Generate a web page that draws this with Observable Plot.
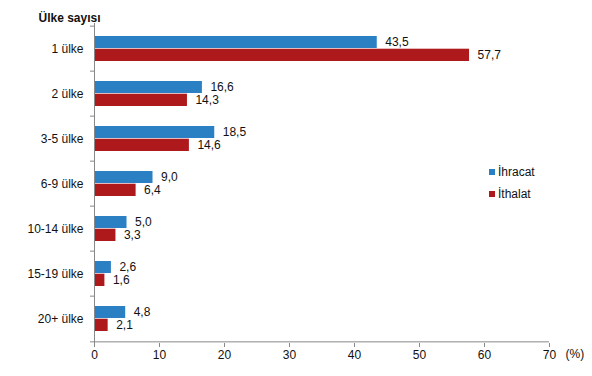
<!DOCTYPE html>
<html><head><meta charset="utf-8">
<script src="https://cdn.jsdelivr.net/npm/d3@7"></script>
<script src="https://cdn.jsdelivr.net/npm/@observablehq/plot@0.6"></script>
<style>
body{margin:0;background:#fff}
#wrap{position:relative;width:592px;height:376px;font-family:"Liberation Sans",Arial,sans-serif}
.leg{position:absolute;left:489px;font-size:12px;color:#111;display:flex;align-items:center;height:14px}
.leg i{display:inline-block;width:6px;height:6px;margin-right:3px}
</style></head><body><div id="wrap"></div>
<script>
const categories = ["1 ülke","2 ülke","3-5 ülke","6-9 ülke","10-14 ülke","15-19 ülke","20+ ülke"];
const ihracat = [43.5,16.6,18.5,9.0,5.0,2.6,4.8];
const ithalat = [57.7,14.3,14.6,6.4,3.3,1.6,2.1];
const series = ["İhracat","İthalat"];
const colors = ["#2b7fc3","#ae1a1c"];
const xTicks = [0,10,20,30,40,50,60,70];
const title = "Ülke sayısı";
const unit = "(%)";

const W = 592, H = 376, mT = 23, mB = 33, mL = 94, mR = 43;
const bw = (H - mT - mB) / categories.length;
const fmt = v => v.toFixed(1).replace(".", ",");
const exp = categories.map((c,i)=>({c, v: ihracat[i]}));
const imp = categories.map((c,i)=>({c, v: ithalat[i]}));

const plot = Plot.plot({
  width: W, height: H,
  marginTop: mT, marginBottom: mB, marginLeft: mL, marginRight: mR,
  style: {fontFamily: '"Liberation Sans", Arial, sans-serif', fontSize: "12px", color: "#111", background: "#fff"},
  x: {domain: [0,70]},
  y: {type: "band", domain: categories, paddingInner: 0, paddingOuter: 0},
  marks: [
    Plot.barX(exp, {x: "v", y: "c", fill: colors[0], insetTop: 10, insetBottom: bw - 22.7}),
    Plot.barX(imp, {x: "v", y: "c", fill: colors[1], insetTop: 22.7, insetBottom: 10}),
    Plot.text(exp, {x: "v", y: "c", text: d => fmt(d.v), dx: 8, dy: -6.5, textAnchor: "start", fill: "#111", fontSize: 12}),
    Plot.text(imp, {x: "v", y: "c", text: d => fmt(d.v), dx: 8, dy: 6.5, textAnchor: "start", fill: "#111", fontSize: 12}),
    Plot.ruleX([0], {stroke: "#888"}),
    Plot.ruleY([categories[categories.length-1]], {dy: bw/2, stroke: "#888"}),
    Plot.ruleY(categories, {y: d => d, dy: -bw/2, x1: 0, x2: 0, insetLeft: -4, stroke: "#888"}),
    Plot.ruleY([categories[categories.length-1]], {y: d => d, dy: bw/2, x1: 0, x2: 0, insetLeft: -4, stroke: "#888"}),
    Plot.axisX({ticks: xTicks, tickSize: 4, tickPadding: 3, stroke: "#888", fill: "#111", fontSize: 12, label: null, tickFormat: d => String(d)}),
    Plot.axisY({tickSize: 0, tickPadding: 11, fill: "#111", fontSize: 12, label: null}),
    Plot.text([title], {frameAnchor: "top-left", dx: -56, dy: -10, textAnchor: "start", fontWeight: "bold", fontSize: 12, fill: "#111"}),
    Plot.text([unit], {x: 70, frameAnchor: "bottom", dx: 16, dy: 14, textAnchor: "start", fontSize: 12, fill: "#111"})
  ]
});
const wrap = document.getElementById("wrap");
wrap.appendChild(plot);
series.forEach((s,i)=>{
  const d = document.createElement("div");
  d.className = "leg";
  d.style.top = (165 + i*21.5) + "px";
  d.innerHTML = `<i style="background:${colors[i]}"></i><span>${s}</span>`;
  wrap.appendChild(d);
});
</script></body></html>
